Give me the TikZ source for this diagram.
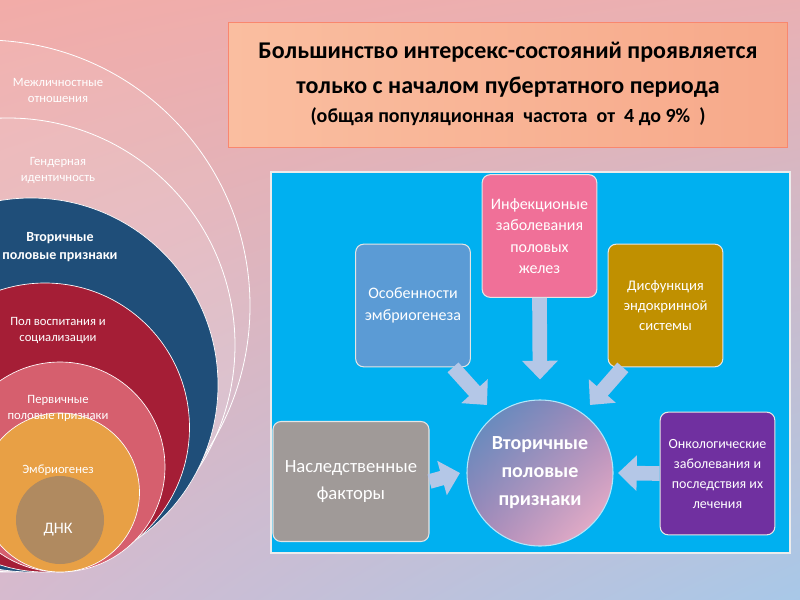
\documentclass[tikz,border=0pt]{standalone}
\usepackage{fontspec}
\setmainfont{Carlito}
\usetikzlibrary{arrows.meta,shadings}
\definecolor{bgpink}{RGB}{242,172,168}
\definecolor{bgblue}{RGB}{168,200,232}
\definecolor{bgmid}{RGB}{214,186,206}
\definecolor{cblue}{RGB}{31,78,121}
\definecolor{cred}{RGB}{165,30,54}
\definecolor{cpink}{RGB}{214,95,110}
\definecolor{corange}{RGB}{232,160,69}
\definecolor{cbrown}{RGB}{176,138,96}
\definecolor{panel}{RGB}{0,176,240}
\definecolor{bosob}{RGB}{91,155,213}
\definecolor{binf}{RGB}{240,112,152}
\definecolor{bdis}{RGB}{192,144,0}
\definecolor{bnas}{RGB}{160,154,152}
\definecolor{bonk}{RGB}{112,48,160}
\definecolor{arr}{RGB}{180,199,231}
\definecolor{tsalmon}{RGB}{247,169,138}
\definecolor{tsalmon2}{RGB}{250,190,160}
\tikzset{
  box/.style={draw=white!80!gray, line width=0.8pt, rounded corners=6pt, minimum width=86pt, minimum height=92pt, text=white, align=center, font=\fontsize{12}{16}\selectfont, inner sep=2pt},
  ctext/.style={text=white, align=center, font=\fontsize{9.5}{12}\selectfont},
  bigarrow/.style={draw=arr, line width=11pt, -{Triangle[width=26pt,length=14pt]}},
  ring/.style={draw=white, line width=0.6pt},
}
\begin{document}
\begin{tikzpicture}[x=0.75pt,y=-0.75pt]
\useasboundingbox (0,0) rectangle (800,600);
\shade[upper left=bgpink, upper right=bgpink!70!bgmid, lower left=bgmid, lower right=bgblue] (0,0) rectangle (800,600);
% rings
\fill[white, opacity=0.08] (-16,306) circle (266);
\draw[ring] (-16,306) circle (266);
\fill[white, opacity=0.08] (8,345) circle (227);
\draw[ring] (8,345) circle (227);
\fill[cblue, draw=white, line width=0.5pt] (31,385) circle (187);
\fill[cred, draw=white, line width=0.5pt] (45,427.5) circle (144.5);
\fill[cpink, draw=white, line width=0.5pt] (60,467) circle (105);
\fill[corange, draw=white, line width=0.5pt] (60,492.5) circle (79.5);
\fill[cbrown] (60,520) circle (44);
\node[ctext] (t1) at (58,90) {Межличностные\\отношения};
\node[ctext] (t2) at (58,170) {Гендерная\\идентичность};
\node[ctext, font=\bfseries\fontsize{10.5}{14}\selectfont] (t3) at (60,247) {Вторичные\\половые признаки};
\node[ctext] (t4) at (58,330) {Пол воспитания и\\социализации};
\node[ctext] (t5) at (58,408) {Первичные\\половые признаки};
\node[ctext] (t6) at (58,470) {Эмбриогенез};
\node[ctext, font=\fontsize{12}{14}\selectfont] (t7) at (58,530) {ДНК};
% title
\shade[left color=tsalmon2, right color=tsalmon, draw=tsalmon!80!red] (228,22) rectangle (787,147);
\node[align=center, font=\bfseries\fontsize{18}{26}\selectfont] (title) at (508,69.5) {Большинство интерсекс-состояний проявляется\\только с началом пубертатного периода};
\node[font=\bfseries\fontsize{15}{18}\selectfont] (sub) at (508,117) {(общая популяционная\ \ частота\ \ от\ \ 4 до 9\%\ \ )};
% panel
\fill[panel, draw=white!85!gray, line width=1pt] (271,172) rectangle (790,553);
\begin{scope}
\clip (540,473) circle (73);
\shade[upper left=bosob!90!black, lower right=binf!50!white, upper right=bosob!50!binf, lower left=bosob!50!binf] (467,400) rectangle (613,546);
\end{scope}
\node[circle, minimum size=109.5pt, draw=white!70!panel, line width=0.8pt, text=white, align=center, font=\bfseries\fontsize{15}{21}\selectfont] (c) at (540,473) {Вторичные\\половые\\признаки};
\node[box, fill=bosob] (osob) at (413,305.5) {Особенности\\эмбриогенеза};
\node[box, fill=binf] (inf) at (539.5,236) {Инфекционые\\заболевания\\половых\\желез};
\node[box, fill=bdis, font=\fontsize{11}{15}\selectfont] (dis) at (665.5,305.5) {Дисфункция\\эндокринной\\системы};
\node[box, fill=bnas, minimum width=117pt, minimum height=90pt, font=\fontsize{14}{20}\selectfont] (nas) at (351,481.5) {Наследственные\\факторы};
\node[box, fill=bonk, font=\fontsize{10.5}{15}\selectfont] (onk) at (717.5,473.5) {Онкологические\\заболевания и\\последствия их\\лечения};
\draw[bigarrow] (inf.south) -- ([yshift=15]c.north);
\draw[bigarrow] ([xshift=30]osob.south) -- (487,405);
\draw[bigarrow] ([xshift=-32]dis.south) -- (590,405);
\draw[bigarrow] (nas.east) -- (460,473);
\draw[bigarrow] (onk.west) -- (618,473);
\end{tikzpicture}
\end{document}
